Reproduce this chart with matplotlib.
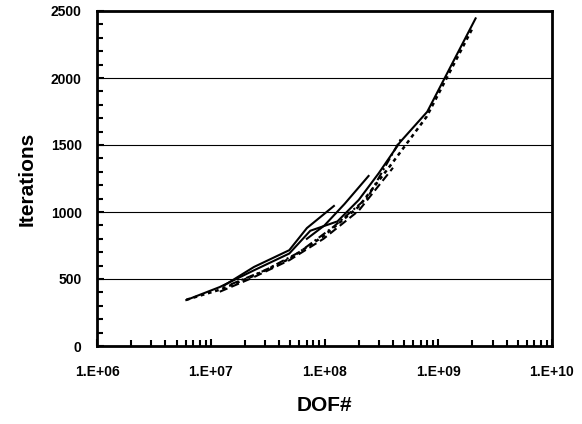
import numpy as np
import matplotlib
matplotlib.use('Agg')
import matplotlib.pyplot as plt
from matplotlib.ticker import LogLocator, MultipleLocator, FixedLocator

plt.rcParams['font.family'] = ['Liberation Sans', 'DejaVu Sans']

# data (DOF#, iterations) for each run
dof_a = [6.1e6, 1.2e7, 2.4e7, 4.9e7, 7.5e7, 1.3e8, 2.0e8, 3.0e8, 4.6e8, 8.0e8, 2.13e9]
iter_a = [343, 440, 565, 690, 860, 930, 1090, 1290, 1520, 1748, 2445]

dof_b = [6.1e6, 1.2e7, 2.4e7, 4.9e7, 9.8e7, 2.0e8, 3.9e8, 7.9e8, 2.0e9]
iter_b = [345, 420, 525, 650, 820, 1040, 1360, 1711, 2371]

dof_c = [1.2e7, 2.3e7, 4.9e7, 9.8e7, 2.0e8, 4.0e8]
iter_c = [405, 507, 640, 800, 1010, 1330]

dof_d = [1.3e7, 2.4e7, 4.9e7, 7.0e7, 1.21e8]
iter_d = [450, 590, 715, 880, 1045]

dof_e = [7.0e7, 1.0e8, 1.5e8, 2.44e8]
iter_e = [800, 900, 1060, 1269]

dof_f = [1.5e7, 3.0e7, 6.0e7, 1.2e8, 2.4e8, 4.8e8]
iter_f = [460, 565, 700, 890, 1110, 1560]

fig = plt.figure(figsize=(5.82, 4.24), dpi=100)
ax = fig.add_axes([97/582, 1-346/424, (552-97)/582, (346-11)/424])

ax.plot(dof_a, iter_a, color='black', ls='-', lw=1.5, zorder=5)
ax.plot(dof_b, iter_b, color='black', ls=(0, (1.5, 1.5)), lw=1.8, zorder=5)
ax.plot(dof_c, iter_c, color='black', ls=(0, (4, 2)), lw=1.5, zorder=5)
ax.plot(dof_d, iter_d, color='black', ls='-', lw=1.5, zorder=5)
ax.plot(dof_e, iter_e, color='black', ls='-', lw=1.5, zorder=5)
ax.plot(dof_f, iter_f, color='black', ls=(0, (4, 1.5, 1, 1.5)), lw=1.5, zorder=5)

ax.set_xscale('log')
ax.set_xlim(1e6, 1e10)
ax.set_ylim(0, 2500)
ax.xaxis.set_major_locator(FixedLocator([1e6, 1e7, 1e8, 1e9, 1e10]))
ax.xaxis.set_minor_locator(LogLocator(base=10, subs=np.arange(2, 10), numticks=20))
ax.set_xticklabels(['1.E+06', '1.E+07', '1.E+08', '1.E+09', '1.E+10'])
ax.yaxis.set_major_locator(MultipleLocator(500))
ax.yaxis.set_minor_locator(MultipleLocator(100))

ax.grid(axis='y', which='major', color='black', lw=0.8)
ax.set_axisbelow(True)
for s in ax.spines.values():
    s.set_linewidth(2)

ax.tick_params(axis='x', which='major', direction='in', length=5, width=1.5,
               labelsize=10, pad=14)
ax.tick_params(axis='y', which='major', direction='in', length=5, width=1.5,
               labelsize=10, pad=11)
ax.tick_params(axis='both', which='minor', direction='in', length=4, width=1.5)
for lab in ax.get_xticklabels() + ax.get_yticklabels():
    lab.set_fontweight('bold')

ax.set_xlabel('DOF#', size=15, weight='bold', labelpad=12)
ax.set_ylabel('Iterations', size=15, weight='bold', labelpad=10)

plt.savefig('out.png', dpi=100)
